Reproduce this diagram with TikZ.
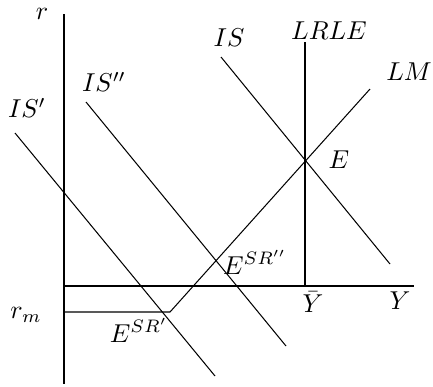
\documentclass[tikz,border=0pt]{standalone}
\usepackage{amsmath, amssymb}
\usetikzlibrary{positioning}

\begin{document}
\begin{tikzpicture}[x=0.0136cm, y=-0.0136cm]
    \useasboundingbox (0,0) rectangle (433,386);

    % Axes
    \coordinate (rtop) at (64,14);
    \coordinate (rbot) at (64,384);
    \coordinate (origin) at (65,286);
    \coordinate (yend) at (414,286);
    \draw[semithick] (rtop) -- (rbot);
    \draw[semithick] (origin) -- (yend);
    \node (r) at (42,14) {$r$};
    \node (Y) at (400,301) {$Y$};

    % Money rate floor and LM
    \coordinate (rmstart) at (65,312);
    \coordinate (kink) at (170,312);
    \coordinate (lmend) at (370,89);
    \draw (rmstart) -- (kink) -- (lmend);
    \node (rm) at (26,315) {$r_m$};
    \node (LM) at (409,72) {$LM$};

    % Long-run level
    \coordinate (lrletop) at (305,42);
    \coordinate (ybar) at (305,286);
    \draw (lrletop) -- (ybar);
    \node (LRLE) at (329,31) {$LRLE$};
    \node (Ybar) at (313,302) {$\bar{Y}$};

    % IS curves
    \draw (221,57) -- (390,264);
    \node (IS) at (229,38) {$IS$};
    \draw (86,102) -- (286,346);
    \node (ISpp) at (104,82) {$IS''$};
    \draw (15,133) -- (215,376);
    \node (ISp) at (27,108) {$IS'$};

    % Equilibria
    \node (E) at (339,160) {$E$};
    \node (ESRpp) at (255,262) {$E^{SR''}$};
    \node (ESRp) at (139,330) {$E^{SR'}$};
\end{tikzpicture}
\end{document}
